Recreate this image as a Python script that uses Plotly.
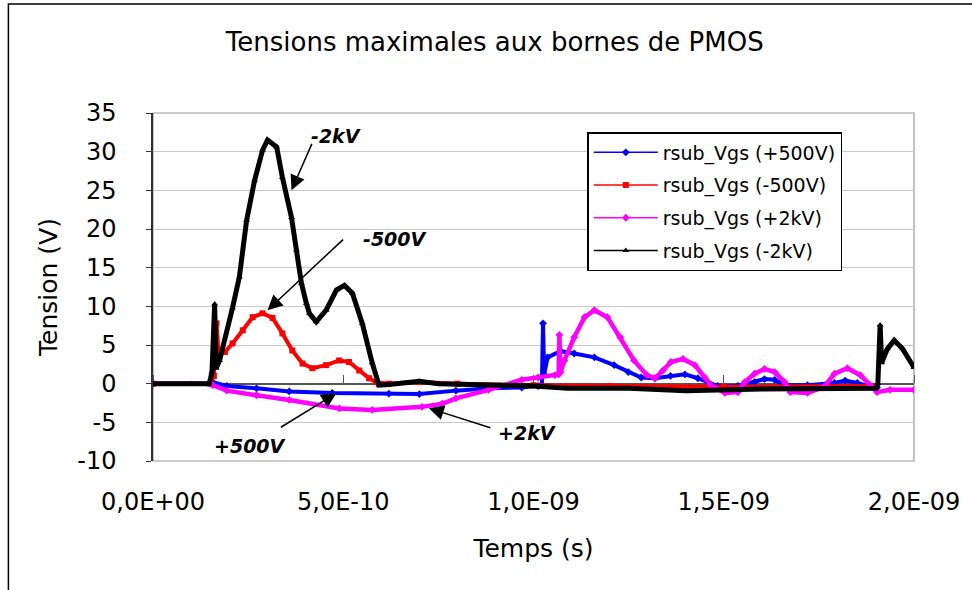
import numpy as np
import plotly.graph_objects as go

# Time axis values are recorded in nanoseconds, plotted in seconds
NS = 1e-9

# rsub_Vgs (+500V)
t_p500 = [0, 0.15, 0.157, 0.194, 0.272, 0.358, 0.471, 0.62, 0.70, 0.796, 0.882, 0.969,
          1.012, 1.022, 1.025, 1.028, 1.037, 1.071, 1.107, 1.160, 1.212, 1.249, 1.283,
          1.319, 1.36, 1.398, 1.432, 1.458, 1.484, 1.537, 1.581, 1.607, 1.634, 1.660,
          1.720, 1.791, 1.819, 1.851, 1.885, 1.903]
v_p500 = [0, 0, 0.2, -0.3, -0.6, -1.0, -1.2, -1.3, -1.35, -0.9, -0.6, -0.5,
          -0.3, -0.2, 7.8, 1.2, 3.4, 4.2, 3.9, 3.4, 2.4, 1.5, 0.8,
          0.7, 1.0, 1.2, 0.7, 0.2, -0.3, -0.3, 0.2, 0.6, 0.5, -0.2,
          -0.2, 0.1, 0.4, 0.1, -0.4, -0.5]

# rsub_Vgs (-500V)
t_m500 = [0, 0.15, 0.16, 0.167, 0.172, 0.189, 0.209, 0.236, 0.262, 0.288, 0.314, 0.340,
          0.366, 0.393, 0.419, 0.455, 0.489, 0.515, 0.542, 0.568, 0.586, 0.62, 0.70,
          0.80, 1.0, 1.2, 1.5, 1.9]
v_m500 = [0, 0, 1.0, 7.8, 4.1, 4.1, 5.2, 6.9, 8.6, 9.1, 8.5, 6.5,
          4.3, 2.6, 2.0, 2.4, 3.0, 2.8, 1.7, 0.7, 0.2, 0.0, 0.2,
          0.0, -0.2, -0.3, -0.4, -0.3]

# rsub_Vgs (+2kV)
t_p2k = [0, 0.15, 0.157, 0.194, 0.272, 0.358, 0.490, 0.576, 0.707, 0.76, 0.796, 0.882,
         0.969, 1.012, 1.056, 1.066, 1.068, 1.071, 1.081, 1.107, 1.134, 1.160, 1.194,
         1.228, 1.264, 1.298, 1.319, 1.340, 1.361, 1.393, 1.424, 1.450, 1.466, 1.503,
         1.537, 1.555, 1.581, 1.607, 1.634, 1.660, 1.675, 1.720, 1.764, 1.791, 1.825,
         1.859, 1.885, 1.903, 1.937, 2.0]
v_p2k = [0, 0, -0.2, -0.9, -1.5, -2.1, -3.2, -3.4, -3.0, -2.6, -1.9, -0.8,
         0.5, 0.8, 1.1, 1.2, 6.3, 1.5, 3.0, 6.0, 8.6, 9.5, 8.6,
         6.0, 3.0, 1.1, 0.7, 1.7, 2.8, 3.2, 2.4, 0.8, -0.2, -1.2,
         -1.1, 0.2, 1.3, 1.9, 1.5, 0.2, -1.1, -1.2, -0.4, 1.3, 2.0,
         1.1, -0.2, -1.1, -0.8, -0.8]

# rsub_Vgs (-2kV)
t_m2k = [0, 0.10, 0.148, 0.155, 0.162, 0.166, 0.175, 0.209, 0.227, 0.246, 0.267, 0.288,
         0.301, 0.325, 0.340, 0.364, 0.377, 0.390, 0.403, 0.411, 0.429, 0.455, 0.482,
         0.503, 0.524, 0.550, 0.576, 0.589, 0.594, 0.62, 0.70, 0.75, 0.91, 1.0,
         1.09, 1.25, 1.4, 1.6, 1.9, 1.905, 1.911, 1.915, 1.93, 1.948, 1.97, 2.0]
v_m2k = [0, 0, 0, 1.5, 10.3, 2.0, 3.0, 9.8, 13.8, 21.1, 26.3, 30.2,
         31.5, 30.6, 26.7, 21.5, 17.3, 13.0, 10.4, 9.1, 8.0, 9.5, 12.1,
         12.7, 11.7, 7.8, 2.7, 0.45, -0.2, -0.1, 0.3, 0.0, -0.2, -0.3,
         -0.6, -0.6, -0.9, -0.7, -0.6, 0.0, 7.6, 2.7, 4.5, 5.6, 4.5, 2.1]

series_names = ["rsub_Vgs (+500V)", "rsub_Vgs (-500V)", "rsub_Vgs (+2kV)", "rsub_Vgs (-2kV)"]
series_t = [t_p500, t_m500, t_p2k, t_m2k]
series_v = [v_p500, v_m500, v_p2k, v_m2k]
series_colors = ["#0000FF", "#FF0000", "#FF00FF", "#000000"]
series_symbols = ["diamond", "square", "diamond", "triangle-up"]
series_widths = [4, 4, 4.5, 5]

x_tickvals = [0, 0.5e-9, 1.0e-9, 1.5e-9, 2.0e-9]
x_ticktext = ["0,0E+00", "5,0E-10", "1,0E-09", "1,5E-09", "2,0E-09"]
y_tickvals = [-10, -5, 0, 5, 10, 15, 20, 25, 30, 35]
y_ticktext = ["-10", "-5", "0", "5", "10", "15", "20", "25", "30", "35"]
Y_MIN, Y_MAX = -10, 35

FONT = "DejaVu Sans"

fig = go.Figure()

for name, t, v, c, sym, w in zip(series_names, series_t, series_v, series_colors,
                                 series_symbols, series_widths):
    fig.add_trace(go.Scatter(
        x=np.array(t) * NS, y=v, mode="lines+markers", name=name,
        line=dict(color=c, width=w), marker=dict(color=c, symbol=sym, size=6),
        showlegend=False, hoverinfo="skip"))

# Legend entries drawn with thin lines and small markers
for i, (name, c, sym) in enumerate(zip(series_names, series_colors, series_symbols)):
    fig.add_trace(go.Scatter(
        x=[None], y=[None], mode="lines+markers", name=name,
        line=dict(color=c, width=1.5), marker=dict(color=c, symbol=sym, size=6),
        legendgroup=f"g{i}", showlegend=True))

# Empty trace carrying the axis that crosses at V = 0
fig.add_trace(go.Scatter(x=[None], y=[None], xaxis="x2", showlegend=False, hoverinfo="skip"))

# Arrows pointing at the curves, with their labels placed separately
arrows = [
    (0.364e-9, 25.0, 21, -48),
    (0.301e-9, 9.5, 77, -72),
    (0.482e-9, -1.23, -57, 35),
    (0.725e-9, -3.17, 63, 20),
]
for x, y, ax, ay in arrows:
    fig.add_annotation(x=x, y=y, ax=ax, ay=ay, text="", showarrow=True,
                       arrowhead=2, arrowsize=2, arrowwidth=1.5, arrowcolor="black")

labels = [
    ("-2kV", 0.482e-9, 32.0),
    ("-500V", 0.636e-9, 18.7),
    ("+500V", 0.254e-9, -8.1),
    ("+2kV", 0.982e-9, -6.4),
]
for txt, x, y in labels:
    fig.add_annotation(x=x, y=y, text=f"<b><i>{txt}</i></b>", showarrow=False,
                       font=dict(family=FONT, size=19, color="black"))

# Plot area frame and the outer chart border
fig.add_shape(type="rect", xref="paper", yref="paper", x0=0, x1=1, y0=0, y1=1,
              line=dict(color="#9a9a9a", width=1.2), layer="below")
fig.add_shape(type="rect", xref="paper", yref="paper", x0=-0.19, x1=1.2, y0=-0.5, y1=1.313,
              line=dict(color="black", width=1.5), layer="below")

fig.update_layout(
    width=972, height=590, autosize=False,
    margin=dict(l=153, r=55, t=113, b=129),
    paper_bgcolor="white", plot_bgcolor="white",
    font=dict(family=FONT, color="black"),
    title=dict(text="Tensions maximales aux bornes de PMOS", x=0.509, xanchor="center",
               y=0.929, yanchor="middle", font=dict(family=FONT, size=26, color="black")),
    xaxis=dict(range=[0, 2e-9], tickvals=x_tickvals, ticktext=x_ticktext,
               showgrid=False, zeroline=False, showline=False, ticks="",
               ticklabelstandoff=24, tickfont=dict(family=FONT, size=24),
               title=dict(text="Temps (s)", font=dict(family=FONT, size=25), standoff=24)),
    xaxis2=dict(range=[0, 2e-9], overlaying="x", anchor="free",
                position=(0 - Y_MIN) / (Y_MAX - Y_MIN), side="top",
                tickvals=x_tickvals, showticklabels=False, ticks="outside", ticklen=8,
                tickcolor="#555555", showline=True, linecolor="#555555", linewidth=1.5,
                showgrid=False, zeroline=False, layer="below traces"),
    yaxis=dict(range=[Y_MIN, Y_MAX], tickvals=y_tickvals, ticktext=y_ticktext,
               showgrid=True, gridcolor="#c8c8c8", gridwidth=1, zeroline=False,
               showline=True, linecolor="#333333", linewidth=1.5,
               ticks="outside", ticklen=5, tickcolor="#333333",
               ticklabelstandoff=25, tickfont=dict(family=FONT, size=24),
               title=dict(text="Tension (V)", font=dict(family=FONT, size=25), standoff=12)),
    legend=dict(x=0.5707, y=0.9454, xanchor="left", yanchor="top",
                bgcolor="white", bordercolor="black", borderwidth=1.5,
                font=dict(family=FONT, size=19), tracegroupgap=5, itemwidth=64),
)

fig.write_html("out.html")
